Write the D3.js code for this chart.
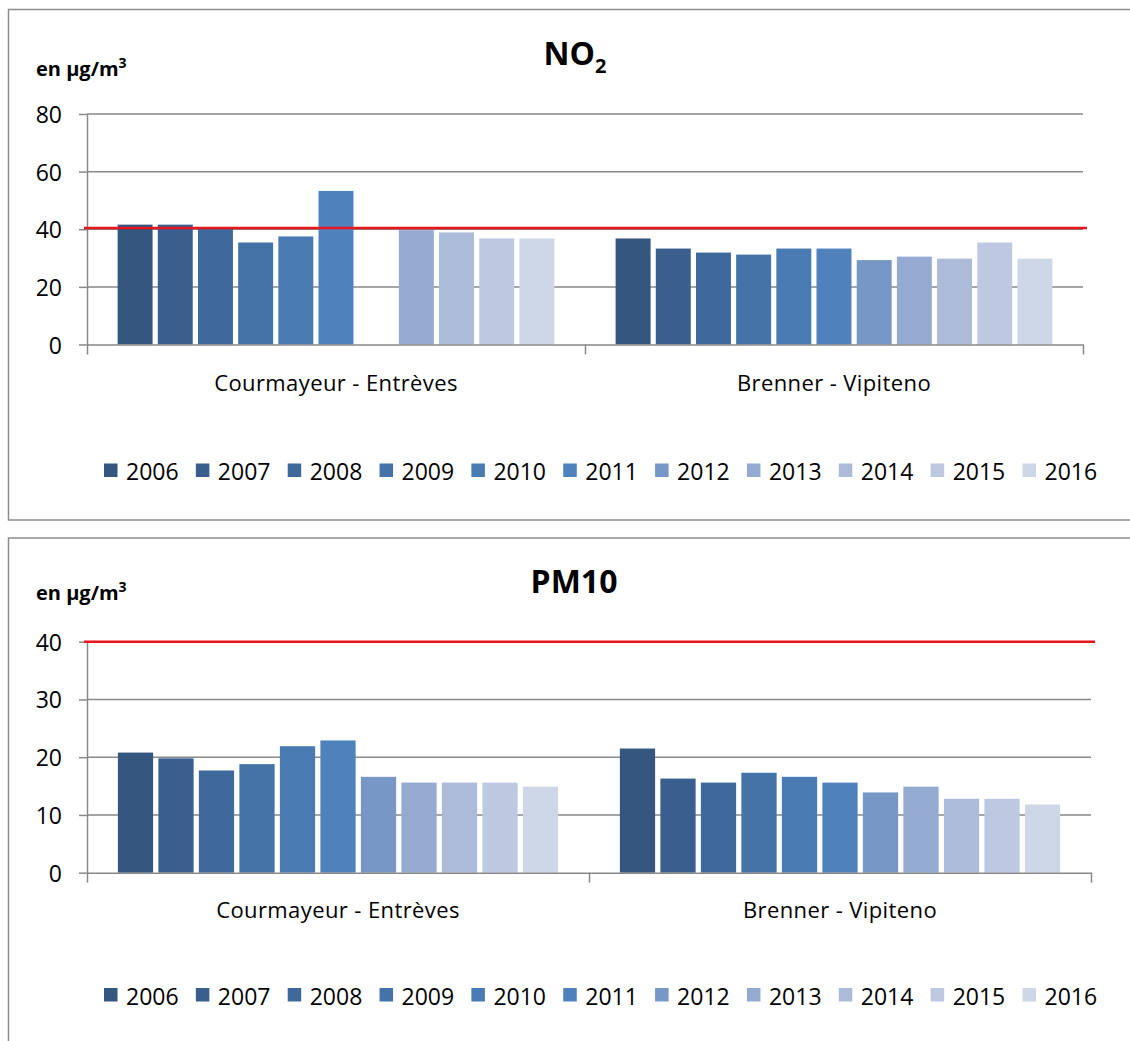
<!DOCTYPE html>
<html>
<head>
<meta charset="utf-8">
<script src="https://cdn.jsdelivr.net/npm/d3@7/dist/d3.min.js"></script>
<style>
  html, body { margin: 0; padding: 0; background: #ffffff; }
  svg { display: block; }
  text { font-family: "Open Sans", "Noto Sans", sans-serif; fill: #000; }
</style>
</head>
<body>
<svg id="chart" width="1130" height="1041"></svg>
<script>
// Measuring stations and reporting years
const stations = ["Courmayeur - Entrèves", "Brenner - Vipiteno"];
const years = ["2006", "2007", "2008", "2009", "2010", "2011", "2012", "2013", "2014", "2015", "2016"];

// Annual mean NO2 (µg/m³); null = no measurement that year
const no2Courmayeur = [41.6, 41.6, 40.3, 35.4, 37.5, 53.3, null, 39.7, 38.9, 36.8, 36.8];
const no2Brenner    = [36.8, 33.3, 31.9, 31.2, 33.3, 33.3, 29.3, 30.5, 29.8, 35.4, 29.8];

// Annual mean PM10 (µg/m³)
const pm10Courmayeur = [20.8, 19.8, 17.7, 18.8, 21.9, 22.9, 16.6, 15.6, 15.6, 15.6, 14.9];
const pm10Brenner    = [21.5, 16.3, 15.6, 17.3, 16.6, 15.6, 13.9, 14.9, 12.8, 12.8, 11.8];

// Annual limit values (µg/m³)
const limitNO2 = 40;
const limitPM10 = 40;

// Y axis ticks
const no2Ticks = [0, 20, 40, 60, 80];
const pm10Ticks = [0, 10, 20, 30, 40];

// One colour per year, dark to light blue
const yearColors = ["#34567f", "#3a5f8e", "#3f699b", "#4473a7", "#497bb2", "#4f81bd",
                    "#7797c6", "#95aad0", "#abbbd8", "#bcc9e1", "#cdd7e8"];

const svg = d3.select("#chart");
const gridColor = "#898989";

function drawPanel(cfg) {
  const g = svg.append("g");

  // frame
  g.append("rect")
    .attr("x", cfg.box[0]).attr("y", cfg.box[1])
    .attr("width", cfg.box[2]).attr("height", cfg.box[3])
    .attr("fill", "#fff").attr("stroke", "#8c8c8c").attr("stroke-width", 1.5);

  const y = d3.scaleLinear().domain([0, cfg.ticks[cfg.ticks.length - 1]]).range([cfg.y0, cfg.yTop]);
  const x0 = d3.scaleBand().domain(stations).range([cfg.xL, cfg.xR]).padding(0);
  const cw = x0.bandwidth();
  const x1 = d3.scaleBand().domain(years).range([0.051 * cw, 0.949 * cw]).padding(0.13);
  const color = d3.scaleOrdinal().domain(years).range(yearColors);

  // horizontal gridlines
  g.append("g").selectAll("line").data(cfg.ticks.filter(t => t > 0)).join("line")
    .attr("x1", cfg.xL).attr("x2", cfg.xR)
    .attr("y1", d => y(d)).attr("y2", d => y(d))
    .attr("stroke", gridColor).attr("stroke-width", 1.5);

  // y axis with labels
  const yAxis = g.append("g").attr("transform", `translate(${cfg.xL},0)`)
    .call(d3.axisLeft(y).tickValues(cfg.ticks).tickSize(8).tickSizeOuter(0).tickPadding(17));
  yAxis.select(".domain").attr("stroke", gridColor).attr("stroke-width", 1.5);
  yAxis.selectAll(".tick line").attr("stroke", gridColor).attr("stroke-width", 1.5);
  yAxis.selectAll(".tick text")
    .attr("font-family", "Open Sans").attr("font-size", 23).attr("fill", "#000")
    .attr("dy", "0.37em");

  // bars
  const rows = stations.map((s, i) => ({ station: s, values: cfg.series[i] }));
  g.append("g").selectAll("g").data(rows).join("g")
    .attr("transform", d => `translate(${x0(d.station)},0)`)
    .selectAll("rect")
    .data(d => years.map((yr, j) => ({ year: yr, value: d.values[j] })).filter(d => d.value != null))
    .join("rect")
    .attr("x", d => x1(d.year))
    .attr("width", x1.bandwidth())
    .attr("y", d => y(d.value))
    .attr("height", d => y(0) - y(d.value))
    .attr("fill", d => color(d.year));

  // x axis: baseline and category boundary ticks
  const xb = d3.scaleLinear().domain([0, stations.length]).range([cfg.xL, cfg.xR]);
  const xAxis = g.append("g").attr("transform", `translate(0,${cfg.y0})`)
    .call(d3.axisBottom(xb).tickValues(d3.range(stations.length + 1)).tickSize(10).tickSizeOuter(0).tickFormat(""));
  xAxis.select(".domain").attr("stroke", gridColor).attr("stroke-width", 1.5);
  xAxis.selectAll(".tick line").attr("stroke", gridColor).attr("stroke-width", 1.5);

  // category labels
  g.append("g").selectAll("text").data(stations).join("text")
    .attr("x", d => x0(d) + cw / 2)
    .attr("y", cfg.y0 + cfg.catDy)
    .attr("text-anchor", "middle")
    .attr("font-size", 22)
    .attr("letter-spacing", "0.4px")
    .text(d => d);

  // limit value line
  g.append("line")
    .attr("x1", cfg.xL - 3).attr("x2", cfg.xR + 4)
    .attr("y1", y(cfg.limit) - cfg.limitShift).attr("y2", y(cfg.limit) - cfg.limitShift)
    .attr("stroke", "#e8151d").attr("stroke-width", 2.5);

  // title
  const title = g.append("text")
    .attr("x", cfg.titleX).attr("y", cfg.titleY)
    .attr("text-anchor", "middle")
    .attr("font-size", 32).attr("font-weight", "bold");
  title.append("tspan").text(cfg.title);
  if (cfg.titleSub) {
    title.append("tspan").attr("font-size", 20).attr("dy", 8).text(cfg.titleSub);
  }

  // unit label
  const unit = g.append("text")
    .attr("x", 36).attr("y", cfg.unitY)
    .attr("font-size", 20).attr("font-weight", "bold");
  unit.append("tspan").text("en µg/m");
  unit.append("tspan").attr("font-size", 14).attr("dy", -8).text("3");

  // legend
  const lx = d3.scaleBand().domain(years).range([104, 104 + 91.85 * years.length]);
  const items = g.append("g").selectAll("g").data(years).join("g")
    .attr("transform", d => `translate(${lx(d)},${cfg.legendY})`);
  items.append("rect")
    .attr("x", 0).attr("y", -16.5).attr("width", 13.5).attr("height", 13.5)
    .attr("fill", d => color(d));
  items.append("text")
    .attr("x", 22).attr("y", 0)
    .attr("font-size", 23)
    .text(d => d);
}

drawPanel({
  box: [8.5, 9.5, 1140, 510.5],
  xL: 87, xR: 1083, y0: 344.5, yTop: 114,
  ticks: no2Ticks,
  series: [no2Courmayeur, no2Brenner],
  limit: limitNO2, limitShift: 1.2,
  title: "NO", titleSub: "2", titleX: 575, titleY: 65,
  unitY: 76,
  catDy: 46.2,
  legendY: 480
});

drawPanel({
  box: [8.5, 538, 1140, 600],
  xL: 87, xR: 1091, y0: 872.7, yTop: 641.7,
  ticks: pm10Ticks,
  series: [pm10Courmayeur, pm10Brenner],
  limit: limitPM10, limitShift: 0,
  title: "PM10", titleSub: null, titleX: 574, titleY: 593,
  unitY: 600,
  catDy: 45.6,
  legendY: 1004.5
});
</script>
</body>
</html>
